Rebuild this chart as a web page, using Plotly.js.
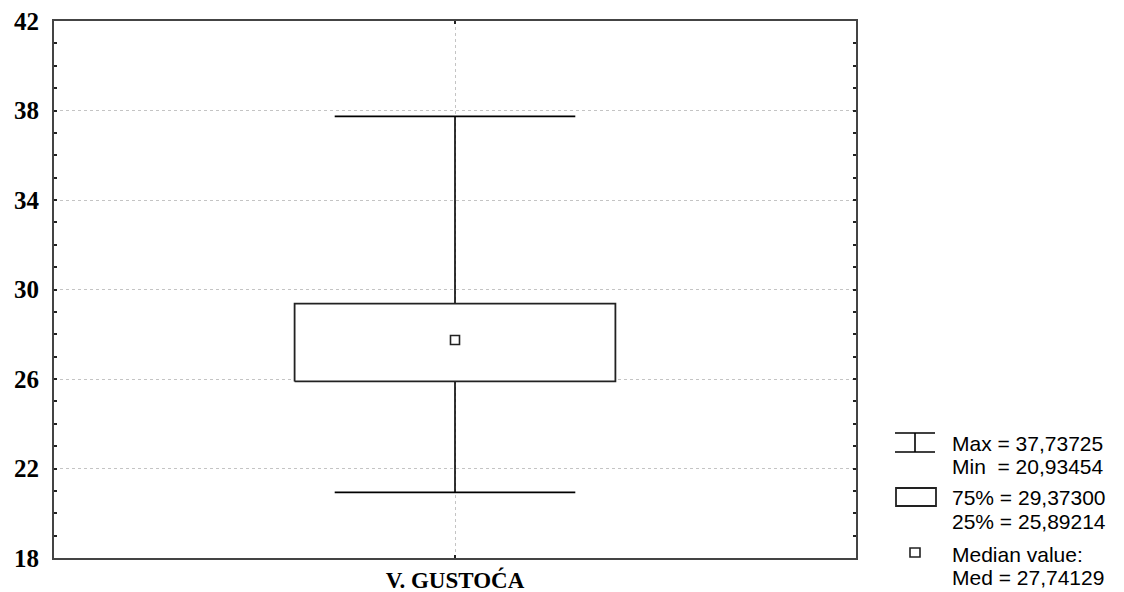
<!DOCTYPE html>
<html>
<head>
<meta charset="utf-8">
<script src="https://cdn.plot.ly/plotly-3.0.1.min.js"></script>
<style>html,body{margin:0;padding:0;background:#fff;}#chart{width:1124px;height:592px;}</style>
</head>
<body>
<div id="chart"></div>
<script>
// Data
const categories = ['V. GUSTOĆA'];
const maxVals = [37.73725];
const minVals = [20.93454];
const q75Vals = [29.37300];
const q25Vals = [25.89214];
const medVals = [27.74129];
const yTicks = [18, 22, 26, 30, 34, 38, 42];

// Styles
const boxHalf = 0.40;
const capHalf = 0.30;
const lineColor = '#000000';
const fmt = v => v.toFixed(5).replace('.', ',');

const traces = [];
categories.forEach((c, i) => {
  const x0 = i;
  traces.push({
    type: 'scatter', mode: 'lines', hoverinfo: 'skip', showlegend: false,
    x: [x0, x0, null, x0, x0, null, x0 - capHalf, x0 + capHalf, null, x0 - capHalf, x0 + capHalf],
    y: [q75Vals[i], maxVals[i], null, q25Vals[i], minVals[i], null, maxVals[i], maxVals[i], null, minVals[i], minVals[i]],
    line: {color: lineColor, width: 1.6}
  });
  traces.push({
    type: 'scatter', mode: 'lines', hoverinfo: 'skip', showlegend: false,
    x: [x0 - boxHalf, x0 + boxHalf, x0 + boxHalf, x0 - boxHalf, x0 - boxHalf],
    y: [q25Vals[i], q25Vals[i], q75Vals[i], q75Vals[i], q25Vals[i]],
    fill: 'toself', fillcolor: '#ffffff',
    line: {color: '#222222', width: 1.8}
  });
  traces.push({
    type: 'scatter', mode: 'markers', hoverinfo: 'skip', showlegend: false,
    x: [x0], y: [medVals[i]],
    marker: {symbol: 'square', size: 9, color: '#ffffff', line: {color: '#222222', width: 1.6}}
  });
});

const legFont = {family: 'Liberation Sans, Arial, sans-serif', size: 21, color: '#000'};
const L = 54, R = 268, T = 21, B = 34;
const W = 1124 - L - R, H = 592 - T - B;
const toPX = x => (x - L) / W;
const toPY = y => (592 - B - y) / H;
const legTexts = [
  'Max = ' + fmt(maxVals[0]),
  'Min&nbsp;&nbsp;= ' + fmt(minVals[0]),
  '75% = ' + fmt(q75Vals[0]),
  '25% = ' + fmt(q25Vals[0]),
  'Median value:',
  'Med = ' + fmt(medVals[0])
];
const legY = [443, 466, 497, 521, 554, 577];
const annotations = legTexts.map((t, k) => ({
  xref: 'paper', yref: 'paper', x: toPX(950), y: toPY(legY[k]), xanchor: 'left', yanchor: 'middle',
  showarrow: false, text: t, font: legFont
}));

const sh = (x0, y0, x1, y1) => ({
  type: 'line', xref: 'paper', yref: 'paper',
  x0: toPX(x0), y0: toPY(y0), x1: toPX(x1), y1: toPY(y1),
  line: {color: '#000', width: 1.6}
});
const shapes = [
  sh(895, 433, 935, 433),
  sh(895, 452, 935, 452),
  sh(915, 433, 915, 452),
  {type: 'rect', xref: 'paper', yref: 'paper', x0: toPX(896), y0: toPY(506), x1: toPX(936), y1: toPY(488), line: {color: '#222', width: 1.8}, fillcolor: '#fff'},
  {type: 'rect', xref: 'paper', yref: 'paper', x0: toPX(910), y0: toPY(557), x1: toPX(920), y1: toPY(548), line: {color: '#222', width: 1.6}, fillcolor: '#fff'}
];

const layout = {
  width: 1124, height: 592,
  margin: {l: L, r: R, t: T, b: B, pad: 0},
  paper_bgcolor: '#fff', plot_bgcolor: '#fff',
  showlegend: false,
  xaxis: {
    range: [-1, 1], tickmode: 'array', tickvals: categories.map((c, i) => i), ticktext: categories,
    showline: true, mirror: 'ticks', linecolor: '#444', linewidth: 2,
    ticks: 'inside', ticklen: 3, tickcolor: '#222', tickwidth: 2,
    showgrid: true, gridcolor: '#c4c4c4', griddash: 'dot', gridwidth: 1,
    zeroline: false, ticklabelstandoff: 0,
    tickfont: {family: 'Liberation Serif, Times New Roman, serif', size: 23, color: '#000', weight: 'bold'},
    fixedrange: true
  },
  yaxis: {
    range: [18, 42], tickmode: 'array', tickvals: yTicks, ticktext: yTicks.map(String),
    showline: true, mirror: 'ticks', linecolor: '#444', linewidth: 2,
    ticks: 'inside', ticklen: 3, tickcolor: '#222', tickwidth: 2,
    minor: {dtick: 1, tick0: 18, ticks: 'inside', ticklen: 3, tickcolor: '#222', tickwidth: 2, showgrid: false},
    showgrid: true, gridcolor: '#c4c4c4', griddash: 'dot', gridwidth: 1,
    zeroline: false, ticklabelstandoff: 8,
    tickfont: {family: 'Liberation Serif, Times New Roman, serif', size: 25, color: '#000', weight: 'bold'},
    fixedrange: true
  },
  annotations: annotations,
  shapes: shapes
};

Plotly.newPlot('chart', traces, layout, {displayModeBar: false, staticPlot: true});
</script>
</body>
</html>
